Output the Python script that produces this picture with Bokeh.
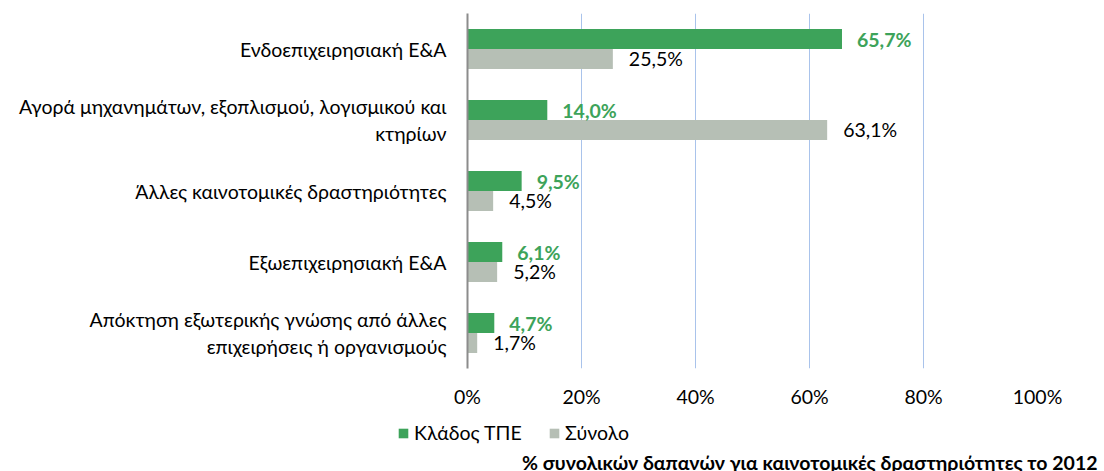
from bokeh.plotting import figure
from bokeh.models import ColumnDataSource, FactorRange, Range1d, FixedTicker, Legend, LegendItem, Label
from bokeh.transform import dodge
from bokeh.core.properties import value
from bokeh.embed import file_html
from bokeh.resources import INLINE

categories = [
    "Ενδοεπιχειρησιακή Ε&Α",
    "Αγορά μηχανημάτων, εξοπλισμού, λογισμικού και\nκτηρίων",
    "Άλλες καινοτομικές δραστηριότητες",
    "Εξωεπιχειρησιακή Ε&Α",
    "Απόκτηση εξωτερικής γνώσης από άλλες\nεπιχειρήσεις ή οργανισμούς",
]
series_names = ["Κλάδος ΤΠΕ", "Σύνολο"]
ict_values = [65.7, 14.0, 9.5, 6.1, 4.7]
total_values = [25.5, 63.1, 4.5, 5.2, 1.7]
x_ticks = [0, 20, 40, 60, 80, 100]
x_tick_labels = ["0%", "20%", "40%", "60%", "80%", "100%"]
title_text = "% συνολικών δαπανών για καινοτομικές δραστηριότητες το 2012"

GREEN = "#3DA35A"
GRAY = "#B6BFB5"
FONT = "Lato"
FS = "19.5px"
W = 1099


def fmt(v):
    return f"{v:.1f}".replace(".", ",") + "%"


source = ColumnDataSource(dict(
    cat=categories,
    ict=ict_values,
    tot=total_values,
    ict_lbl=[fmt(v) for v in ict_values],
    tot_lbl=[fmt(v) for v in total_values],
))

p = figure(
    width=W, height=410,
    y_range=FactorRange(factors=categories[::-1]),
    x_range=Range1d(0, 100),
    output_backend="svg", toolbar_location=None,
    min_border_left=467, min_border_right=62, min_border_top=13, min_border_bottom=42,
)
p.outline_line_color = None
p.background_fill_color = "white"

r1 = p.hbar(y=dodge("cat", 0.14, range=p.y_range), left=0, right="ict", height=0.28,
            source=source, fill_color=GREEN, line_color=None)
r2 = p.hbar(y=dodge("cat", -0.14, range=p.y_range), left=0, right="tot", height=0.28,
            source=source, fill_color=GRAY, line_color=None)

p.text(x="ict", y=dodge("cat", 0.14, range=p.y_range), text="ict_lbl", source=source,
       x_offset=15, text_baseline="middle", text_align="left",
       text_font=value(FONT), text_font_style="bold", text_font_size=FS, text_color=GREEN)
p.text(x="tot", y=dodge("cat", -0.14, range=p.y_range), text="tot_lbl", source=source,
       x_offset=16, text_baseline="middle", text_align="left",
       text_font=value(FONT), text_font_size=FS, text_color="#000000")

# x axis
xa = p.xaxis[0]
xa.ticker = FixedTicker(ticks=x_ticks)
xa.major_label_overrides = dict(zip(x_ticks, x_tick_labels))
xa.axis_line_color = None
xa.major_tick_line_color = None
xa.minor_tick_line_color = None
xa.major_label_standoff = 10
xa.major_label_text_font = FONT
xa.major_label_text_font_size = FS
xa.major_label_text_color = "#000000"

# y axis
ya = p.yaxis[0]
ya.axis_line_color = "#8C8C8C"
ya.axis_line_width = 2
ya.major_tick_line_color = None
ya.minor_tick_line_color = None
ya.major_label_standoff = 15
ya.major_label_text_font = FONT
ya.major_label_text_font_size = FS
ya.major_label_text_color = "#000000"

p.xgrid.ticker = FixedTicker(ticks=x_ticks)
p.xgrid.grid_line_color = "#A9C3EB"
p.xgrid.grid_line_width = 1
p.ygrid.grid_line_color = None

# second strip (separate root): legend + title
p2 = figure(
    width=W, height=61, x_range=Range1d(0, 1), y_range=Range1d(0, 1),
    output_backend="svg", toolbar_location=None,
    min_border_left=0, min_border_right=0, min_border_top=0, min_border_bottom=0,
)
p2.axis.visible = False
p2.grid.visible = False
p2.outline_line_color = None

# zero-size proxies (outside p2's ranges) that only supply the legend swatches
l1 = p2.hbar(y="ict", left="ict", right="ict", height=0, source=source,
             fill_color=GREEN, line_color=None)
l2 = p2.hbar(y="tot", left="tot", right="tot", height=0, source=source,
             fill_color=GRAY, line_color=None)

legend = Legend(
    items=[LegendItem(label=series_names[0], renderers=[l1]),
           LegendItem(label=series_names[1], renderers=[l2])],
    orientation="horizontal", location=(397, 27),
    glyph_width=12, glyph_height=12, label_standoff=5, label_width=134, spacing=0,
    padding=0, margin=0, border_line_color=None, background_fill_alpha=0,
    label_text_font=FONT, label_text_font_size=FS, label_text_color="#000000",
)
p2.add_layout(legend, "center")

title = Label(text=title_text, x=W - 2, y=9, x_units="screen", y_units="screen",
              text_align="right", text_baseline="middle",
              text_font=FONT, text_font_style="bold", text_font_size=FS, text_color="#000000")
p2.add_layout(title)

open("out.html", "w").write(file_html([p, p2], INLINE))
